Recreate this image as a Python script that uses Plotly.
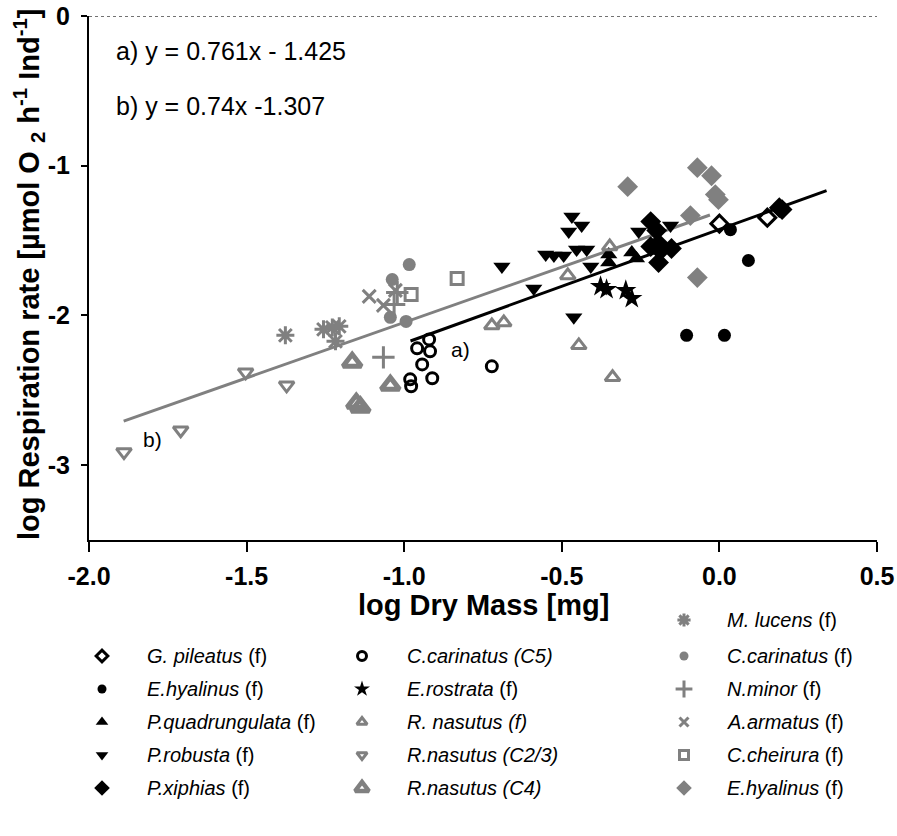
import plotly.graph_objects as go

W, H = 897, 836
BLACK = "#000000"
GREY = "#808080"
NARROW = "Liberation Sans Narrow, Arial Narrow, Liberation Sans, Arial, sans-serif"
SANS = "Liberation Sans, Arial, sans-serif"

# log dry mass [mg] (x) and log respiration rate (y) for each species / stage
g_pileatus_x = [0.000, 0.152]
g_pileatus_y = [-1.387, -1.347]

e_hyalinus_black_x = [0.035, 0.092, -0.104, 0.016]
e_hyalinus_black_y = [-1.427, -1.633, -2.133, -2.133]

p_quadrungulata_x = [-0.351, -0.351, -0.278, -0.263]
p_quadrungulata_y = [-1.593, -1.647, -1.580, -1.620]

p_robusta_x = [-0.690, -0.589, -0.551, -0.525, -0.494, -0.453, -0.421, -0.408,
               -0.468, -0.478, -0.437, -0.462, -0.256, -0.155]
p_robusta_y = [-1.673, -1.820, -1.593, -1.600, -1.600, -1.560, -1.560, -1.673,
               -1.340, -1.440, -1.400, -2.013, -1.440, -1.400]

p_xiphias_x = [-0.218, -0.199, -0.218, -0.193, -0.187, -0.193, -0.152, 0.190, 0.199]
p_xiphias_y = [-1.373, -1.433, -1.540, -1.520, -1.567, -1.647, -1.553, -1.280, -1.293]

c_carinatus_c5_x = [-0.921, -0.959, -0.918, -0.943, -0.911, -0.981, -0.978, -0.722]
c_carinatus_c5_y = [-2.160, -2.220, -2.240, -2.327, -2.420, -2.427, -2.473, -2.340]

e_rostrata_x = [-0.377, -0.358, -0.297, -0.278]
e_rostrata_y = [-1.807, -1.827, -1.833, -1.887]

r_nasutus_f_x = [-0.722, -0.684, -0.481, -0.348, -0.446, -0.339]
r_nasutus_f_y = [-2.067, -2.047, -1.733, -1.540, -2.200, -2.413]

r_nasutus_c23_x = [-1.889, -1.709, -1.503, -1.373]
r_nasutus_c23_y = [-2.913, -2.767, -2.380, -2.467]

r_nasutus_c4_x = [-1.165, -1.044, -1.152, -1.139]
r_nasutus_c4_y = [-2.313, -2.467, -2.587, -2.613]

m_lucens_x = [-1.377, -1.256, -1.228, -1.206, -1.218]
m_lucens_y = [-2.133, -2.093, -2.080, -2.073, -2.173]

c_carinatus_f_x = [-0.984, -1.038, -1.044, -0.994]
c_carinatus_f_y = [-1.660, -1.760, -2.013, -2.040]

n_minor_x = [-1.066, -1.022, -1.032]
n_minor_y = [-2.280, -1.847, -1.927]

a_armatus_x = [-1.111, -1.066, -1.028]
a_armatus_y = [-1.873, -1.933, -1.833]

c_cheirura_x = [-0.978, -0.832]
c_cheirura_y = [-1.860, -1.753]

e_hyalinus_grey_x = [-0.291, -0.070, -0.025, -0.013, -0.003, -0.092, -0.070]
e_hyalinus_grey_y = [-1.140, -1.013, -1.067, -1.193, -1.227, -1.333, -1.747]

# regression fits: slope, intercept, fitted x-range
fit_a = (0.761, -1.425, -0.98, 0.34)
fit_b = (0.74, -1.307, -1.89, -0.03)

x_ticks = [-2.0, -1.5, -1.0, -0.5, 0.0, 0.5]
y_ticks = [0, -1, -2, -3]

# (label, x, y, symbol, colour, size, outline width, legend column, legend row)
species = [
    ("<i>G. pileatus</i> (f)", g_pileatus_x, g_pileatus_y, "diamond-open", BLACK, 13, 3, 0, 1),
    ("<i>E.hyalinus</i> (f)", e_hyalinus_black_x, e_hyalinus_black_y, "circle", BLACK, 13, 0, 0, 2),
    ("<i>P.quadrungulata</i> (f)", p_quadrungulata_x, p_quadrungulata_y, "triangle-up", BLACK, 15, 0, 0, 3),
    ("<i>P.robusta</i> (f)", p_robusta_x, p_robusta_y, "triangle-down", BLACK, 15, 0, 0, 4),
    ("<i>P.xiphias</i> (f)", p_xiphias_x, p_xiphias_y, "diamond", BLACK, 16, 0, 0, 5),
    ("<i>C.carinatus (C5)</i>", c_carinatus_c5_x, c_carinatus_c5_y, "circle-open", BLACK, 11, 3, 1, 1),
    ("<i>E.rostrata</i> (f)", e_rostrata_x, e_rostrata_y, "star", BLACK, 16, 0, 1, 2),
    ("<i>R. nasutus (f)</i>", r_nasutus_f_x, r_nasutus_f_y, "triangle-up-open", GREY, 13, 3, 1, 3),
    ("<i>R.nasutus (C2/3)</i>", r_nasutus_c23_x, r_nasutus_c23_y, "triangle-down-open", GREY, 13, 3, 1, 4),
    ("<i>R.nasutus (C4)</i>", r_nasutus_c4_x, r_nasutus_c4_y, "triangle-up-open", GREY, 16, 5, 1, 5),
    ("<i>M. lucens</i> (f)", m_lucens_x, m_lucens_y, "asterisk-open", GREY, 15, 3, 2, 0),
    ("<i>C.carinatus</i> (f)", c_carinatus_f_x, c_carinatus_f_y, "circle", GREY, 13, 0, 2, 1),
    ("<i>N.minor</i> (f)", n_minor_x, n_minor_y, "cross-thin-open", GREY, 16, 3, 2, 2),
    ("<i>A.armatus</i> (f)", a_armatus_x, a_armatus_y, "x-thin-open", GREY, 13, 3, 2, 3),
    ("<i>C.cheirura</i> (f)", c_cheirura_x, c_cheirura_y, "square-open", GREY, 12, 3, 2, 4),
    ("<i>E.hyalinus</i> (f)", e_hyalinus_grey_x, e_hyalinus_grey_y, "diamond", GREY, 16, 0, 2, 5),
]

# key layout (pixels): marker column, text column, row centres
key_marker_x = [102, 362, 684]
key_text_x = [145, 405, 725]
key_row_y = [620, 656, 689, 722, 755, 788]
KEY_TOP = 598

fig = go.Figure()


def marker_style(symbol, colour, size, width):
    return dict(symbol=symbol, color=colour, size=size,
                line=dict(color=colour, width=width))


# regression lines
for (slope, icpt, x0, x1), colour in ((fit_b, GREY), (fit_a, BLACK)):
    xs = [x0, x1]
    fig.add_trace(go.Scatter(x=xs, y=[slope * v + icpt for v in xs], mode="lines",
                             line=dict(color=colour, width=3), showlegend=False,
                             hoverinfo="skip"))

for label, xs, ys, symbol, colour, size, width, col, row in species:
    fig.add_trace(go.Scatter(x=xs, y=ys, mode="markers", name=label, showlegend=False,
                             marker=marker_style(symbol, colour, size, width)))
    # key entry (slightly smaller than the plotted marks)
    fig.add_trace(go.Scatter(x=[key_marker_x[col]], y=[key_row_y[row]], mode="markers",
                             xaxis="x2", yaxis="y2", showlegend=False, hoverinfo="skip",
                             marker=marker_style(symbol, colour, max(size - 4, 9),
                                                 min(width, 4.5 if width > 3 else 3))))
    fig.add_annotation(x=key_text_x[col], y=key_row_y[row], xref="x2", yref="y2",
                       text=label, showarrow=False, xanchor="left", yanchor="middle",
                       font=dict(family=NARROW, size=20, color=BLACK))

# dotted zero reference
fig.add_shape(type="line", xref="x", yref="y", x0=x_ticks[0], x1=x_ticks[-1], y0=0, y1=0,
              line=dict(color="#444444", width=1.5, dash="dot"))

# equations and line tags
fig.add_annotation(x=114 / W, y=1 - 51 / H, xref="paper", yref="paper", showarrow=False,
                   xanchor="left", yanchor="middle", text="a) y = 0.761x - 1.425",
                   font=dict(family=SANS, size=25, color=BLACK))
fig.add_annotation(x=114 / W, y=1 - 106 / H, xref="paper", yref="paper", showarrow=False,
                   xanchor="left", yanchor="middle", text="b) y = 0.74x -1.307",
                   font=dict(family=SANS, size=25, color=BLACK))
fig.add_annotation(x=-0.82, y=-2.227, xref="x", yref="y", text="a)", showarrow=False,
                   font=dict(family=SANS, size=21, color=BLACK))
fig.add_annotation(x=-1.797, y=-2.827, xref="x", yref="y", text="b)", showarrow=False,
                   font=dict(family=SANS, size=21, color=BLACK))

# axis titles
fig.add_annotation(x=483 / W, y=1 - 605 / H, xref="paper", yref="paper", showarrow=False,
                   text="<b>log Dry Mass [mg]</b>", xanchor="center", yanchor="middle",
                   font=dict(family=NARROW, size=29, color=BLACK))
fig.add_annotation(x=29 / W, y=1 - 275 / H, xref="paper", yref="paper", showarrow=False,
                   textangle=-90, xanchor="center", yanchor="middle",
                   text="<b>log Respiration rate [µmol O <sub>2</sub> h<sup>-1</sup> Ind<sup>-1</sup>]</b>",
                   font=dict(family=SANS, size=29, color=BLACK))

fig.update_layout(
    width=W, height=H, margin=dict(l=0, r=0, t=0, b=0, autoexpand=False),
    paper_bgcolor="white", plot_bgcolor="rgba(0,0,0,0)", showlegend=False,
    xaxis=dict(domain=[89 / W, 877 / W], range=[x_ticks[0], x_ticks[-1]], tickvals=x_ticks,
               ticktext=[f"{v:.1f}" for v in x_ticks], showline=True, linecolor=BLACK,
               linewidth=2, ticks="outside", ticklen=10, tickwidth=2, tickcolor=BLACK,
               tickfont=dict(family=NARROW, size=25, color=BLACK, weight="bold"),
               showgrid=False, zeroline=False, anchor="y", ticklabelstandoff=3,
               automargin=False),
    yaxis=dict(domain=[1 - 540 / H, 1 - 16 / H], range=[-3.5, 0], tickvals=y_ticks,
               ticktext=[str(v) for v in y_ticks], showline=True, linecolor=BLACK,
               linewidth=2, ticks="outside", ticklen=6, tickwidth=2, tickcolor=BLACK,
               tickfont=dict(family=NARROW, size=25, color=BLACK, weight="bold"),
               showgrid=False, zeroline=False, anchor="x", ticklabelstandoff=6,
               automargin=False),
    xaxis2=dict(domain=[0, 1], range=[0, W], visible=False, anchor="y2", automargin=False),
    yaxis2=dict(domain=[0, 1 - KEY_TOP / H], range=[H, KEY_TOP], visible=False, anchor="x2",
                automargin=False),
)

fig.write_html("out.html")
